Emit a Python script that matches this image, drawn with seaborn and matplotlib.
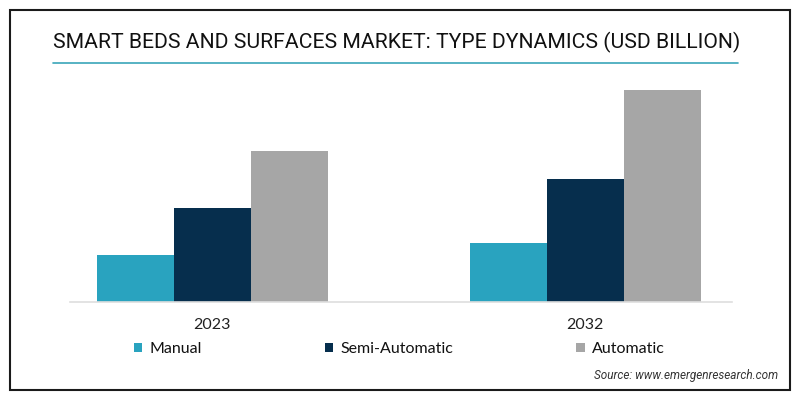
import matplotlib
matplotlib.use('Agg')
import matplotlib.pyplot as plt
from matplotlib.patches import Rectangle
from matplotlib.lines import Line2D
import seaborn as sns
import pandas as pd

# ================= 数据 =================
years = ['2023', '2032']
types = ['Manual', 'Semi-Automatic', 'Automatic']
manual = [0.47, 0.59]
semi_auto = [0.94, 1.23]
automatic = [1.51, 2.12]

COLORS = ['#29a3bf', '#062e4d', '#a6a6a6']

df = pd.DataFrame({
    'Year': years * 3,
    'Type': [t for t in types for _ in years],
    'Value': manual + semi_auto + automatic,
})

sns.set_style('white')
plt.rcParams['font.family'] = ['Lato', 'DejaVu Sans']

# ================= 画布 =================
fig = plt.figure(figsize=(8, 4), dpi=100)
fig.patch.set_facecolor('white')
ax = fig.add_axes([70 / 800, 1 - 301.7 / 400, (732 - 70) / 800, (301.7 - 80) / 400])

sns.barplot(ax=ax, data=df, x='Year', y='Value', hue='Type', order=years, hue_order=types,
            palette=COLORS, width=0.62, saturation=1, errorbar=None, linewidth=0)

handles, labels = ax.get_legend_handles_labels()
ax.get_legend().remove()

ax.set_xlim(-0.382, 1.394)
ax.set_ylim(0, 2.217)
ax.set_xlabel('')
ax.set_ylabel('')
ax.set_yticks([])
for s in ['top', 'left', 'right']:
    ax.spines[s].set_visible(False)
ax.spines['bottom'].set_color('#dedede')
ax.spines['bottom'].set_linewidth(1.2)
ax.tick_params(axis='x', length=0, pad=12, labelsize=11.5, labelcolor='#222222')

# ================= 图例 =================
fig.legend(handles, labels, loc='center left', bbox_to_anchor=(134 / 800, 1 - 349 / 400),
           ncol=3, frameon=False, fontsize=11.5, borderpad=0, borderaxespad=0,
           handlelength=0.52, handleheight=0.52, handletextpad=0.45, columnspacing=7.7,
           labelcolor='#111111')

# ================= 标题与装饰 =================
fig.text(53 / 800, 1 - 42 / 400, 'SMART BEDS AND SURFACES MARKET: TYPE DYNAMICS (USD BILLION)',
         family=['Roboto', 'DejaVu Sans'], fontsize=15.2,
         color='#111111', va='center', ha='left')
fig.add_artist(Line2D([53 / 800, 738 / 800], [1 - 62.7 / 400] * 2, color='#3aa6b9', lw=1.2))
fig.add_artist(Rectangle((10 / 800, 10 / 400), 780 / 800, 380 / 400, fill=False,
                         edgecolor='#1a1a1a', lw=1.5, transform=fig.transFigure))
fig.text(778 / 800, 1 - 375 / 400, 'Source: www.emergenresearch.com', fontsize=8.5,
         family=['Roboto', 'DejaVu Sans'], style='italic', color='#333333',
         ha='right', va='center')

plt.savefig('out.png', dpi=100)
